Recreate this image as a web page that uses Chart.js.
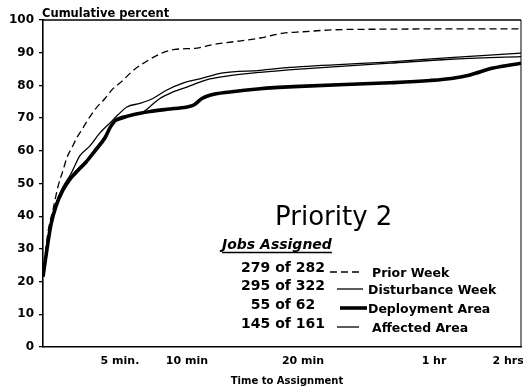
<!DOCTYPE html>
<html>
<head>
<meta charset="utf-8">
<script src="https://cdn.jsdelivr.net/npm/chart.js@4/dist/chart.umd.min.js"></script>
<style>
  html, body { margin: 0; padding: 0; background: #fff; }
  canvas { display: block; }
</style>
</head>
<body>
<canvas id="chart" width="523" height="390"></canvas>
<script>
// Cumulative percent of Priority 2 jobs assigned, by minutes since the job came in.
const priorWeekMinutes   = [0, 0.32, 0.65, 0.97, 1.3, 1.56, 1.88, 2.2, 2.53, 2.92, 3.44, 4.03, 4.55, 5.07, 5.97, 7.24, 8.21, 9.1, 10.86, 12.24, 13.7, 16.3, 18.3, 20, 29.2, 46.6, 73, 130];
const priorWeekPercent   = [22, 35, 42, 49, 54, 58, 61, 64, 66.5, 69.5, 73, 76, 79, 81, 84.5, 88, 90, 91, 91.4, 92.5, 93.2, 94.5, 96, 96.4, 97, 97.2, 97.3, 97.3];

const disturbanceMinutes = [0, 0.26, 0.52, 0.84, 1.3, 1.82, 2.4, 3.05, 3.7, 4.35, 4.87, 5.52, 6.49, 7.46, 8.51, 9.7, 11.12, 13.1, 16.3, 18.9, 46.6, 73, 130];
const disturbancePercent = [22, 30.5, 38, 44, 49, 53, 58.5, 61.5, 65.5, 68.5, 71, 73.4, 74.5, 76, 78.6, 80.7, 82, 83.8, 84.6, 85.5, 87.2, 88.5, 89.9];

const deploymentMinutes  = [0, 0.26, 0.52, 0.84, 1.3, 1.82, 2.27, 2.79, 3.38, 4.03, 4.35, 4.68, 5.15, 5.97, 7.24, 8.51, 10, 10.6, 11.3, 11.98, 13.7, 16.3, 19.7, 46.6, 58.8, 75.4, 89.2, 107.8, 130];
const deploymentPercent  = [21.5, 30, 37.5, 43, 48, 51.7, 54, 56.5, 60, 64, 67, 69.2, 70, 71, 72, 72.7, 73.4, 74, 76, 77, 78, 79, 79.7, 80.8, 81.5, 82.2, 83.2, 85.3, 86.8];

const affectedMinutes    = [0, 0.26, 0.52, 0.84, 1.3, 1.82, 2.27, 2.79, 3.38, 4.03, 4.48, 4.87, 5.75, 6.72, 7.24, 7.98, 8.96, 10, 11.12, 11.98, 13.7, 16.3, 19.7, 46.6, 73, 130];
const affectedPercent    = [22, 30, 37.5, 43.5, 48.5, 52, 54.5, 57, 60.5, 64.5, 68, 70, 71, 71.8, 73.5, 76, 78, 79.5, 81, 82, 83, 84, 85, 86.8, 88, 88.8];

const seriesNames  = ['Prior Week', 'Disturbance Week', 'Deployment Area', 'Affected Area'];
const jobsAssigned = ['279 of 282', '295 of 322', '55 of 62', '145 of 161'];

const xTickMinutes = [5, 10, 20, 60, 120];
const xTickLabels  = ['5 min.', '10 min', '20 min', '1 hr', '2 hrs'];
const yTickStep = 10;

const chartTitle = 'Priority 2';
const legendTitle = 'Jobs Assigned';
const yTitle = 'Cumulative percent';
const xTitle = 'Time to Assignment';

// The time axis is hand-stretched: the first few minutes get most of the width.
const AXIS_BREAK_MINUTES  = [0, 5, 10, 20, 60, 120, 130];
const AXIS_BREAK_FRACTION = [0, 0.161, 0.301, 0.544, 0.818, 0.973, 1];

function lookup(v, from, to) {
  const n = from.length;
  let i = 1;
  while (i < n - 1 && v > from[i]) i++;
  const t = (v - from[i - 1]) / (from[i] - from[i - 1]);
  return to[i - 1] + t * (to[i] - to[i - 1]);
}

class StretchedTimeScale extends Chart.LinearScale {
  getPixelForValue(value) {
    return this.getPixelForDecimal(lookup(value, AXIS_BREAK_MINUTES, AXIS_BREAK_FRACTION));
  }
  getValueForPixel(pixel) {
    return lookup(this.getDecimalForPixel(pixel), AXIS_BREAK_FRACTION, AXIS_BREAK_MINUTES);
  }
}
StretchedTimeScale.id = 'stretchedTime';
StretchedTimeScale.defaults = Chart.LinearScale.defaults;
Chart.register(StretchedTimeScale);

const toPoints = (xs, ys) => xs.map((x, i) => ({ x, y: ys[i] }));

const FONT = '"DejaVu Sans", "Liberation Sans", sans-serif';

// Titles, the "Jobs Assigned" key and the frame's top/right edges.
const annotations = {
  id: 'annotations',
  afterDraw(chart) {
    const { ctx, chartArea: a } = chart;
    ctx.save();
    ctx.strokeStyle = '#000';
    ctx.lineWidth = 1.6;
    ctx.beginPath();
    ctx.moveTo(a.left, a.top);
    ctx.lineTo(a.right, a.top);
    ctx.stroke();
    ctx.lineWidth = 1;
    ctx.beginPath();
    ctx.moveTo(a.right, a.top);
    ctx.lineTo(a.right, a.bottom);
    ctx.stroke();

    ctx.fillStyle = '#000';
    ctx.textBaseline = 'alphabetic';

    ctx.textAlign = 'left';
    ctx.font = 'bold 11.5px ' + FONT;
    ctx.fillText(yTitle, 42, 17);

    ctx.textAlign = 'center';
    ctx.font = 'bold 10px ' + FONT;
    ctx.fillText(xTitle, 287, 384);

    ctx.textAlign = 'left';
    ctx.font = '26px ' + FONT;
    ctx.fillText(chartTitle, 275, 225);

    ctx.font = 'italic bold 14px ' + FONT;
    ctx.fillText(legendTitle, 222, 249);
    const w = ctx.measureText(legendTitle).width;
    ctx.lineWidth = 1.4;
    ctx.beginPath();
    ctx.moveTo(222, 252.5);
    ctx.lineTo(222 + w, 252.5);
    ctx.stroke();

    const countY = [272, 290, 309, 328];
    const keyY = [272, 289, 308, 327];
    const keyX = [[330, 363], [337, 363], [340, 367], [337, 359]];
    const nameX = [372, 368, 368, 372];
    const nameY = [277, 294, 313, 332];
    chart.data.datasets.forEach((ds, i) => {
      ctx.textAlign = 'center';
      ctx.font = 'bold 14px ' + FONT;
      ctx.fillText(jobsAssigned[i], 283, countY[i]);

      ctx.lineWidth = ds.borderWidth;
      ctx.setLineDash(ds.borderDash || []);
      ctx.beginPath();
      ctx.moveTo(keyX[i][0], keyY[i]);
      ctx.lineTo(keyX[i][1], keyY[i]);
      ctx.stroke();
      ctx.setLineDash([]);

      ctx.textAlign = 'left';
      ctx.font = 'bold 12.5px ' + FONT;
      ctx.fillText(ds.label, nameX[i], nameY[i]);
    });
    ctx.restore();
  }
};

const lineStyle = { borderColor: '#000', backgroundColor: '#000', fill: false, pointRadius: 0, cubicInterpolationMode: 'monotone' };

new Chart(document.getElementById('chart'), {
  type: 'line',
  data: {
    datasets: [
      { ...lineStyle, label: seriesNames[0], data: toPoints(priorWeekMinutes, priorWeekPercent), borderWidth: 1.3, borderDash: [7, 4] },
      { ...lineStyle, label: seriesNames[1], data: toPoints(disturbanceMinutes, disturbancePercent), borderWidth: 1.3 },
      { ...lineStyle, label: seriesNames[2], data: toPoints(deploymentMinutes, deploymentPercent), borderWidth: 3.6 },
      { ...lineStyle, label: seriesNames[3], data: toPoints(affectedMinutes, affectedPercent), borderWidth: 1.3 }
    ]
  },
  options: {
    responsive: false,
    animation: false,
    devicePixelRatio: 1,
    layout: { padding: { top: 20, right: 2, left: 0, bottom: 0 } },
    plugins: { legend: { display: false }, tooltip: { enabled: false } },
    scales: {
      x: {
        type: 'stretchedTime',
        min: 0,
        max: 130,
        afterFit: s => { s.height = 43; s.paddingLeft = 0; s.paddingRight = 0; },
        afterBuildTicks: s => { s.ticks = xTickMinutes.map(v => ({ value: v })); },
        grid: { display: false, drawTicks: false },
        border: { display: true, color: '#000', width: 1.6 },
        ticks: {
          autoSkip: false, maxRotation: 0, padding: 8, color: '#000',
          font: { family: FONT, size: 11, weight: 'bold' },
          callback: (v, i) => xTickLabels[i]
        }
      },
      y: {
        min: 0,
        max: 100,
        afterFit: s => { s.width = 43; s.paddingTop = 0; s.paddingBottom = 0; },
        grid: { drawOnChartArea: false, drawTicks: true, tickLength: 4, color: '#000', lineWidth: 1.3 },
        border: { display: true, color: '#000', width: 1.6 },
        ticks: {
          stepSize: yTickStep, padding: 5, color: '#000',
          font: { family: FONT, size: 12, weight: 'bold' }
        }
      }
    }
  },
  plugins: [annotations]
});
</script>
</body>
</html>
